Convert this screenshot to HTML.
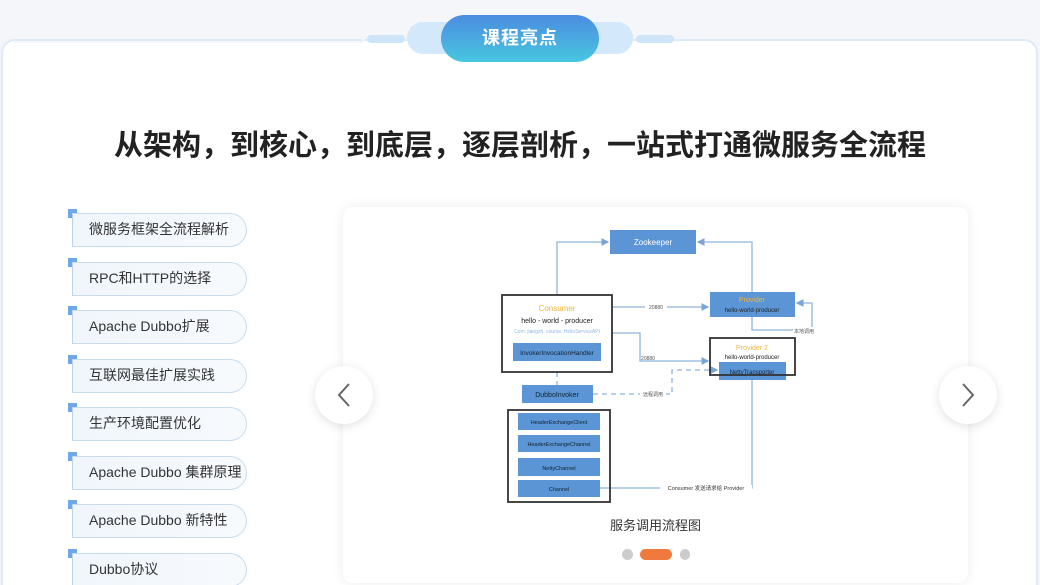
<!DOCTYPE html>
<html style="height:585px;overflow:hidden"><head><meta charset="utf-8"><style>
*{margin:0;padding:0;box-sizing:border-box}
html,body{width:1040px;height:585px;overflow:hidden}
body{background:#f4f6fa;font-family:"Liberation Sans","Noto Sans CJK SC",sans-serif;position:relative}
.wrap{position:absolute;left:0;top:0;width:1040px;height:585px;overflow:hidden}
.panel{position:absolute;left:1px;top:39px;width:1037px;height:580px;background:#fff;border:2px solid #ddebf8;border-radius:14px}
.hdr-line{position:absolute;top:39px;height:2px;background:#ddebf8}
.bar{position:absolute;top:35px;height:8px;border-radius:4px;background:#cfe5fa}
.back{position:absolute;left:407px;top:22px;width:226px;height:32px;border-radius:16px;background:#d3e8fb}
.badge{position:absolute;left:441px;top:15px;width:158px;height:47px;border-radius:24px;background:linear-gradient(#4b8ce0,#48c6e0);color:#fff;font-size:18px;font-weight:bold;text-align:center;line-height:47px;letter-spacing:1px}
h1{position:absolute;left:0;width:1040px;top:127px;text-align:center;font-size:29px;font-weight:bold;color:#222;line-height:38px}
.item{position:absolute;left:72px;width:175px;height:34px;border:1.5px solid #c7ddef;border-left:1.5px solid #bcd4ea;border-radius:0 17px 17px 0;background:linear-gradient(90deg,#f0f6fc,#f7fafd);font-size:14px;color:#333;line-height:31px;padding-left:16px}
.mk{position:absolute;left:68px;width:9px;height:9px;background:#6ea8ea}
.card{position:absolute;left:343px;top:207px;width:625px;height:376px;background:#fff;border-radius:10px;box-shadow:0 0 12px rgba(0,0,0,0.08)}
.btn{position:absolute;top:366px;width:58px;height:58px;border-radius:50%;background:#fff;box-shadow:0 2px 10px rgba(0,0,0,0.12)}
.cap{position:absolute;left:343px;width:625px;top:515px;text-align:center;font-size:13px;color:#333}
.dot{position:absolute;top:549px;height:11px;border-radius:6px}
</style></head><body><div class="wrap">
<div class="panel"></div>
<div class="hdr-line" style="left:14px;width:350px;background:#f4f6fa;top:37px;height:6px"></div>
<div class="hdr-line" style="left:14px;width:348px"></div>
<div class="hdr-line" style="left:678px;width:348px"></div>
<div class="bar" style="left:367px;width:38px"></div>
<div class="bar" style="left:636px;width:38px"></div>
<div class="back"></div>
<div class="badge">课程亮点</div>
<h1>从架构，到核心，到底层，逐层剖析，一站式打通微服务全流程</h1>

<div class="mk" style="top:209px"></div><div class="item" style="top:213px">微服务框架全流程解析</div>
<div class="mk" style="top:258px"></div><div class="item" style="top:262px">RPC和HTTP的选择</div>
<div class="mk" style="top:306px"></div><div class="item" style="top:310px">Apache Dubbo扩展</div>
<div class="mk" style="top:355px"></div><div class="item" style="top:359px">互联网最佳扩展实践</div>
<div class="mk" style="top:403px"></div><div class="item" style="top:407px">生产环境配置优化</div>
<div class="mk" style="top:452px"></div><div class="item" style="top:456px">Apache Dubbo 集群原理</div>
<div class="mk" style="top:500px"></div><div class="item" style="top:504px">Apache Dubbo 新特性</div>
<div class="mk" style="top:549px"></div><div class="item" style="top:553px">Dubbo协议</div>

<div class="card"></div>
<svg style="position:absolute;left:0;top:0" width="1040" height="585" font-family="Liberation Sans, Noto Sans CJK SC, sans-serif">
<defs><marker id="a" markerWidth="6" markerHeight="6" refX="5" refY="3" orient="auto"><path d="M0,0L6,3L0,6z" fill="#7aa6d6"/></marker></defs>
<g fill="none" stroke="#8fb3dc" stroke-width="1.3">
<path d="M557,295V242H608" marker-end="url(#a)"/>
<path d="M752,292V242H698" marker-end="url(#a)"/>
<path d="M612,307H708" marker-end="url(#a)"/>
<path d="M612,333H640V361H708" marker-end="url(#a)"/>
<path d="M752,317V330H812V303H797" marker-end="url(#a)"/>
<path d="M600,488H752V380"/>
<g stroke-dasharray="5,4"><path d="M557,372V385"/><path d="M593,394H672V370H717" marker-end="url(#a)"/></g>
</g>
<g fill="#5b95d5">
<rect x="610" y="230" width="86" height="24"/>
<rect x="710" y="292" width="85" height="25"/>
<rect x="513" y="343" width="88" height="18"/>
<rect x="719" y="362" width="67" height="18"/>
<rect x="522" y="385" width="71" height="18"/>
<rect x="518" y="413" width="82" height="17"/>
<rect x="518" y="435" width="82" height="17"/>
<rect x="518" y="458" width="82" height="18"/>
<rect x="518" y="480" width="82" height="17"/>
</g>
<g fill="none" stroke="#333" stroke-width="1.8">
<rect x="502" y="295" width="110" height="77"/>
<rect x="710" y="338" width="85" height="37"/>
<rect x="508" y="410" width="102" height="92"/>
</g>
<g font-size="7" text-anchor="middle" fill="#fff">
<text x="653" y="245" font-size="8">Zookeeper</text>
<text x="752" y="302" fill="#f5b33c">Provider</text>
<text x="752" y="312" fill="#222" font-size="6">hello-world-producer</text>
<text x="557" y="355" fill="#123" font-size="6.5">InvokerInvocationHandler</text>
<text x="752" y="374" fill="#123" font-size="6">NettyTransporter</text>
<text x="557" y="397" fill="#123">DubboInvoker</text>
<text x="559" y="424" fill="#123" font-size="5.5">HeaderExchangeClient</text>
<text x="559" y="446" fill="#123" font-size="5.5">HeaderExchangeChannel</text>
<text x="559" y="470" fill="#123" font-size="5.5">NettyChannel</text>
<text x="559" y="491" fill="#123" font-size="5.5">Channel</text>
<text x="557" y="311" fill="#f5b33c" font-size="8">Consumer</text>
<text x="557" y="323" fill="#222" font-size="7">hello - world - producer</text>
<text x="557" y="333" fill="#8fb8e8" font-size="5">Com. jiangzh. course. HelloServiceAPI</text>
<text x="752" y="350" fill="#f5b33c">Provider 2</text>
<text x="752" y="359" fill="#222" font-size="6">hello-world-producer</text>
</g>
<g font-size="5" fill="#555" text-anchor="middle">
<rect x="645" y="304" width="22" height="6" fill="#fff"/><text x="656" y="309">20880</text>
<text x="648" y="360">20880</text>
<rect x="793" y="327" width="22" height="7" fill="#fff"/><text x="804" y="333">本地调用</text>
<rect x="640" y="391" width="26" height="7" fill="#fff"/><text x="653" y="396">远程调用</text>
<rect x="660" y="485" width="92" height="7" fill="#fff"/><text x="706" y="490" font-size="5.5" fill="#333">Consumer 发送请求给 Provider</text>
</g>
</svg>
<div class="btn" style="left:315px"></div>
<div class="btn" style="left:939px"></div>
<svg style="position:absolute;left:0;top:0" width="1040" height="585">
<path d="M349,384L339,395L349,406" fill="none" stroke="#666" stroke-width="2"/>
<path d="M963,384L973,395L963,406" fill="none" stroke="#666" stroke-width="2"/>
</svg>
<div class="cap">服务调用流程图</div>
<div class="dot" style="left:622px;width:11px;background:#ccc"></div>
<div class="dot" style="left:640px;width:32px;background:#f07a3e"></div>
<div class="dot" style="left:680px;width:10px;background:#ccc"></div>
</div></body></html>
